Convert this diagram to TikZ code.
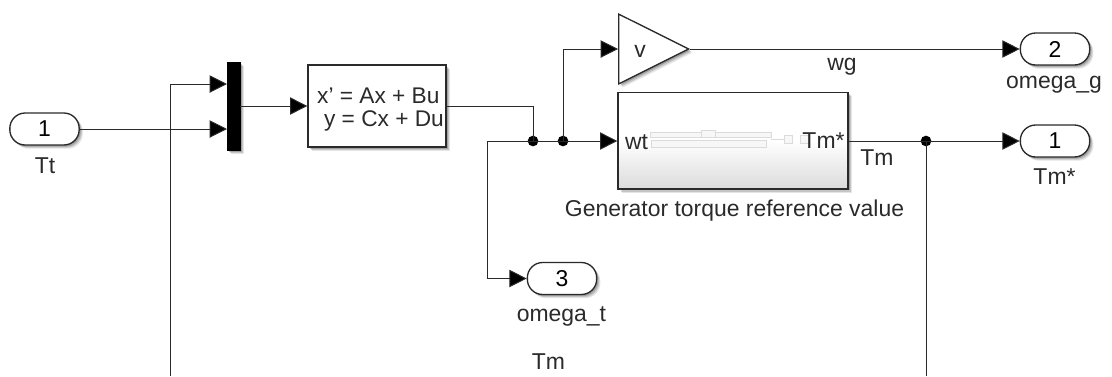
\documentclass[tikz,border=0pt]{standalone}
\usepackage{fontspec}
\setmainfont{Liberation Sans}
\usetikzlibrary{arrows.meta,shapes.geometric,shadows,calc,positioning}
\definecolor{ink}{HTML}{2A2A2A}
\tikzset{
  x=0.75pt,y=-0.75pt,
  wire/.style={draw=ink,line width=0.75pt},
  arr/.style={wire,-{Triangle[length=13pt,width=13pt,fill=black]}},
  softshadow/.style={
    drop shadow={shadow xshift=2.8pt,shadow yshift=-2.8pt,opacity=0.10,fill=black},
    drop shadow={shadow xshift=2pt,shadow yshift=-2pt,opacity=0.14,fill=black},
    drop shadow={shadow xshift=1.2pt,shadow yshift=-1.2pt,opacity=0.18,fill=black}},
  blockbox/.style={draw=ink,line width=1pt,fill=white,minimum width=103.5pt,minimum height=61.5pt,inner sep=0pt,softshadow},
  port/.style={draw=ink,line width=1pt,fill=white,rounded corners=11.5pt,minimum width=52pt,minimum height=24pt,inner sep=0pt,font=\fontsize{17.2pt}{20pt}\selectfont,softshadow},
  lbl/.style={inner sep=0pt,text=ink,font=\fontsize{17.2pt}{20pt}\selectfont},
  dotj/.style={circle,fill=black,minimum size=8pt,inner sep=0pt},
  thumb/.style={draw=black!14,line width=0.5pt,fill=white!94!gray}
}
\begin{document}
\begin{tikzpicture}
\useasboundingbox (0,0) rectangle (1112,376);
% blocks
\node[port] (in1) at (44.5,129) {1};
\node[lbl] (ttl) at (45,166) {Tt};
\node[draw=black,fill=black,minimum width=9.75pt,minimum height=66pt,inner sep=0pt,softshadow] (mux) at (233.5,106) {};
\node[blockbox] (ss) at (377,106) {};
\node[lbl,align=left,font=\fontsize{17pt}{17.2pt}\selectfont] (sst) at (380.5,109.5) {x' = Ax + Bu\\\hspace*{5.2pt}y = Cx + Du};
% gain
\node[draw=ink,line width=1pt,fill=white,isosceles triangle,isosceles triangle apex angle=53,minimum height=52.5pt,inner sep=0pt,anchor=west,softshadow] (gain) at (618,49) {};
\node[lbl] (gaint) at (640,51) {v};
% subsystem
\node[draw=ink,line width=1pt,top color=white,bottom color=black!14,middle color=white,minimum width=172.5pt,minimum height=72.5pt,inner sep=0pt,softshadow] (sub) at (733,140.5) {};
\draw[thumb] (650,132) rectangle (771,137);
\draw[thumb] (651,140) rectangle (766,147);
\draw[thumb] (701,130) rectangle (715,137);
\draw[thumb] (771,139) -- (784,139);
\draw[thumb] (784,135) rectangle (792,143);
\draw[thumb] (800,135) rectangle (809,143);
\node[lbl] (wt) at (636.5,142) {wt};
\node[lbl] (tms) at (823.5,141) {Tm*};
\node[lbl] (cap) at (734.5,210.5) {Generator torque reference value};
% outports
\node[port] (out2) at (1055,49) {2};
\node[lbl] (o2l) at (1054,84.5) {omega\_g};
\node[port] (out1) at (1055,141) {1};
\node[lbl] (o1l) at (1054.5,177) {Tm*};
\node[port] (out3) at (562,278.5) {3};
\node[lbl] (o3l) at (561.5,316.5) {omega\_t};
% labels
\node[lbl] (wgl) at (842,67) {wg};
\node[lbl] (tml) at (877,158) {Tm};
\node[lbl] (tmb) at (548.5,362) {Tm};
% junctions
\node[dotj] (j1) at (533,141) {};
\node[dotj] (j2) at (563,141) {};
\node[dotj] (j3) at (926,141) {};
\coordinate (branch) at (487.5,141);
\coordinate (botl) at (170,376);
\coordinate (botr) at (926,376);
\coordinate (m1) at (227,84);
\coordinate (m2) at (227,129);
% connectors
\draw[arr] (botl) |- (m1);
\draw[arr] (in1.east) -- (m2);
\draw[arr] (mux.east |- ss.west) -- (ss.west);
\draw[wire] (ss.east) -| (j1.center);
\draw[wire] (branch) -- (j1.center);
\draw[arr] (branch) |- (out3.west);
\draw[wire] (j1.center) -- (j2.center);
\draw[arr] (j2.center) -- (sub.west |- j2);
\draw[arr] (j2.center) |- (gain.west |- 0,49);
\draw[arr] (gain.apex) -- (out2.west);
\draw[arr] (sub.east |- j3) -- (out1.west);
\draw[wire] (j3.center) -- (botr);
\end{tikzpicture}
\end{document}
